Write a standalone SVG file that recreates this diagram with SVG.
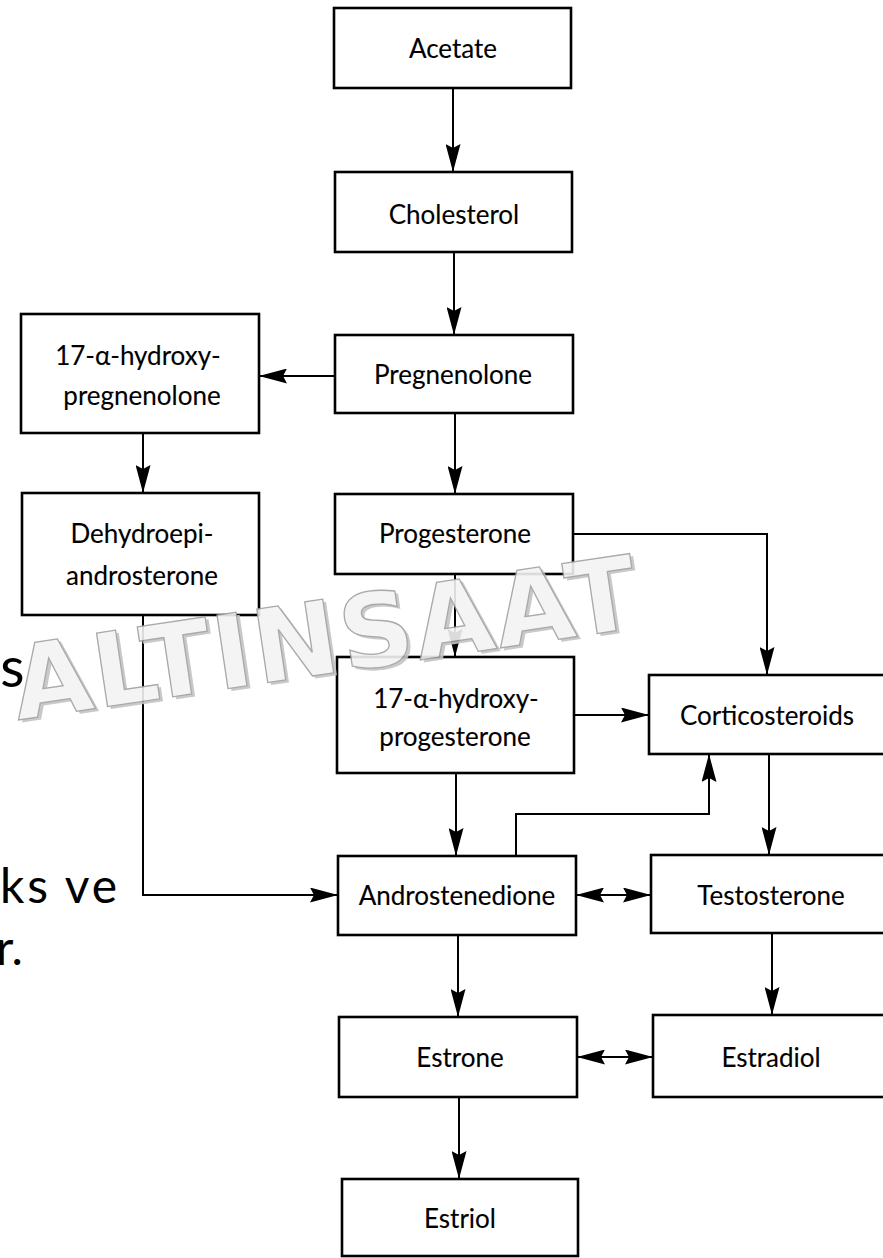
<svg xmlns="http://www.w3.org/2000/svg" width="883" height="1258" viewBox="0 0 883 1258">
<style>
.box{fill:#fff;stroke:#000;stroke-width:2.6}
.lbl{font-family:Lato,"Open Sans","Liberation Sans",sans-serif;font-size:26px;fill:#000;stroke:#000;stroke-width:0.12;text-anchor:middle;dominant-baseline:central}
.con{fill:none;stroke:#000;stroke-width:2}
.slide{font-family:Lato,"Liberation Sans",sans-serif;fill:#000}
.wm{font-family:"DejaVu Sans","Liberation Sans",sans-serif;font-size:102px;font-weight:bold}
</style>
<defs>
<marker id="ah" markerUnits="userSpaceOnUse" markerWidth="28" markerHeight="15" refX="28" refY="7.5" orient="auto-start-reverse" viewBox="0 0 28 15">
<path d="M0,0 L28,7.5 L0,15 L4,7.5 z" fill="#000"/>
</marker>
</defs>
<rect width="883" height="1258" fill="#fff"/>

<g id="slide-text">
<text class="slide" x="-31" y="687" font-size="56">ns</text>
<text class="slide" x="0" y="903" font-size="48" textLength="117" lengthAdjust="spacing">ks ve</text>
<text class="slide" x="-4" y="965" font-size="48">r.</text>
</g>

<g id="connectors">
<line class="con" x1="453" y1="88" x2="453" y2="172" marker-end="url(#ah)"/>
<line class="con" x1="454" y1="252" x2="454" y2="335" marker-end="url(#ah)"/>
<line class="con" x1="335" y1="376" x2="259" y2="376" marker-end="url(#ah)"/>
<line class="con" x1="143" y1="433" x2="143" y2="493" marker-end="url(#ah)"/>
<line class="con" x1="455" y1="413" x2="455" y2="494" marker-end="url(#ah)"/>
<polyline class="con" points="573,534 767,534 767,675" marker-end="url(#ah)"/>
<line class="con" x1="455" y1="574" x2="455" y2="657" marker-end="url(#ah)"/>
<line class="con" x1="574" y1="715" x2="649" y2="715" marker-end="url(#ah)"/>
<line class="con" x1="456" y1="773" x2="456" y2="856" marker-end="url(#ah)"/>
<polyline class="con" points="516,856 516,814 709,814 709,754" marker-end="url(#ah)"/>
<line class="con" x1="769" y1="754" x2="769" y2="855" marker-end="url(#ah)"/>
<polyline class="con" points="143,615 143,895 338,895" marker-end="url(#ah)"/>
<line class="con" x1="576" y1="895" x2="651" y2="895" marker-start="url(#ah)" marker-end="url(#ah)"/>
<line class="con" x1="458" y1="935" x2="458" y2="1017" marker-end="url(#ah)"/>
<line class="con" x1="772" y1="933" x2="772" y2="1015" marker-end="url(#ah)"/>
<line class="con" x1="577" y1="1057" x2="653" y2="1057" marker-start="url(#ah)" marker-end="url(#ah)"/>
<line class="con" x1="459" y1="1097" x2="459" y2="1179" marker-end="url(#ah)"/>
</g>

<g id="acetate"><rect class="box" x="334" y="8" width="237" height="80"/><text class="lbl" x="453" y="48">Acetate</text></g>
<g id="cholesterol"><rect class="box" x="335" y="172" width="237" height="80"/><text class="lbl" x="454" y="214">Cholesterol</text></g>
<g id="pregnenolone"><rect class="box" x="335" y="335" width="238" height="78"/><text class="lbl" x="453" y="374">Pregnenolone</text></g>
<g id="hydroxypregnenolone"><rect class="box" x="21" y="314" width="238" height="119"/><text class="lbl" x="138" y="355">17-α-hydroxy-</text><text class="lbl" x="142" y="395">pregnenolone</text></g>
<g id="dhea"><rect class="box" x="22" y="493" width="237" height="122"/><text class="lbl" x="142" y="533">Dehydroepi-</text><text class="lbl" x="142" y="575">androsterone</text></g>
<g id="progesterone"><rect class="box" x="335" y="494" width="238" height="80"/><text class="lbl" x="455" y="533">Progesterone</text></g>
<g id="hydroxyprogesterone"><rect class="box" x="337" y="657" width="237" height="116"/><text class="lbl" x="456" y="698">17-α-hydroxy-</text><text class="lbl" x="455" y="736">progesterone</text></g>
<g id="corticosteroids"><rect class="box" x="649" y="675" width="245" height="79"/><text class="lbl" x="767" y="715">Corticosteroids</text></g>
<g id="androstenedione"><rect class="box" x="338" y="856" width="238" height="79"/><text class="lbl" x="457" y="895">Androstenedione</text></g>
<g id="testosterone"><rect class="box" x="651" y="855" width="243" height="78"/><text class="lbl" x="771" y="895">Testosterone</text></g>
<g id="estrone"><rect class="box" x="339" y="1017" width="238" height="80"/><text class="lbl" x="460" y="1057">Estrone</text></g>
<g id="estradiol"><rect class="box" x="653" y="1015" width="241" height="82"/><text class="lbl" x="771" y="1057">Estradiol</text></g>
<g id="estriol"><rect class="box" x="342" y="1179" width="236" height="77"/><text class="lbl" x="460" y="1218">Estriol</text></g>

<g id="watermark" opacity="0.9" transform="rotate(-8.5 18 720)">
<text class="wm" x="21" y="723" fill="#c4c4c4" textLength="630" lengthAdjust="spacing">ALTINSAAT</text>
<text class="wm" x="18" y="720" fill="#f3f3f3" stroke="#a0a0a0" stroke-width="1.3" textLength="630" lengthAdjust="spacing">ALTINSAAT</text>
</g>
</svg>
